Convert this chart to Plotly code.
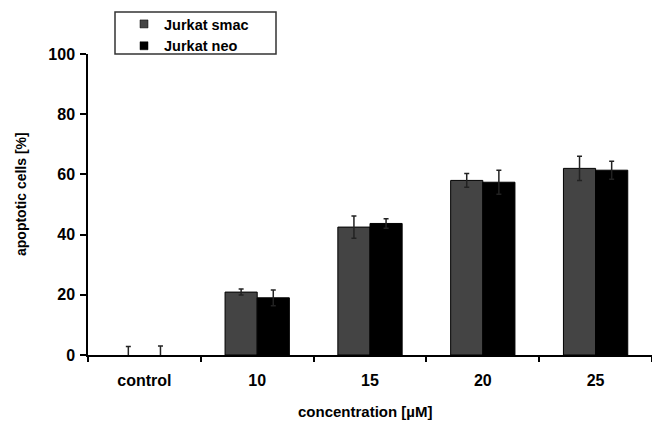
import plotly.graph_objects as go

categories = ["control", "10", "15", "20", "25"]
smac_values = [0.0, 20.9, 42.5, 58.0, 62.0]
smac_errors = [2.8, 1.0, 3.7, 2.3, 4.0]
neo_values = [0.0, 19.0, 43.7, 57.4, 61.4]
neo_errors = [3.0, 2.6, 1.6, 4.0, 3.0]
y_ticks = [0, 20, 40, 60, 80, 100]
series_names = ["Jurkat smac", "Jurkat neo"]
series_colors = ["#444444", "#000000"]

FONT = "Arial, 'Liberation Sans', sans-serif"
W, H = 652, 427
# plot area in pixels
PL, PR, PT, PB = 88, 652, 54, 355


def px_x(x):
    return x / W


def px_y(y):
    return 1 - y / H


fig = go.Figure()
for name, vals, errs, col in zip(series_names, [smac_values, neo_values],
                                 [smac_errors, neo_errors], series_colors):
    fig.add_trace(go.Bar(
        name=name, x=categories, y=vals, showlegend=False,
        marker=dict(color=col, line=dict(color="#000000",
                                         width=[1 if v > 0 else 0 for v in vals])),
        error_y=dict(type="data", array=errs, color="#222222", thickness=1.5, width=2.5),
    ))
    # legend entry with a small square symbol
    fig.add_trace(go.Scatter(
        name=name, x=[None], y=[None], mode="markers",
        marker=dict(symbol="square", size=8, color=col,
                    line=dict(color="#000000", width=0.5)),
    ))

fig.update_layout(
    width=W, height=H,
    margin=dict(l=0, r=0, t=0, b=0, pad=0),
    paper_bgcolor="white", plot_bgcolor="white",
    barmode="group", bargap=0.43, bargroupgap=0,
    font=dict(family=FONT, size=14, color="black", weight="bold"),
    showlegend=True,
    legend=dict(
        x=px_x(124), y=px_y(8), xanchor="left", yanchor="top",
        bgcolor="rgba(0,0,0,0)", borderwidth=0,
        font=dict(family=FONT, size=14.5, color="black", weight="bold"),
        tracegroupgap=0, itemwidth=30,
    ),
    xaxis=dict(
        domain=[px_x(PL), px_x(PR)], automargin=False,
        showline=True, linecolor="black", linewidth=1.5,
        ticks="outside", ticklen=5, tickwidth=1.5, tickcolor="black",
        tickson="boundaries", showgrid=False, ticklabelstandoff=10,
        tickfont=dict(family=FONT, size=16, color="black", weight="bold"),
    ),
    yaxis=dict(
        domain=[px_y(PB), px_y(PT)], automargin=False,
        range=[0, 100], tickvals=y_ticks,
        showline=True, linecolor="black", linewidth=1.5,
        ticks="outside", ticklen=6, tickwidth=1.5, tickcolor="black",
        showgrid=False, zeroline=False, ticklabelstandoff=2,
        tickfont=dict(family=FONT, size=16, color="black", weight="bold"),
    ),
    annotations=[
        dict(text="concentration [µM]", xref="paper", yref="paper",
             x=px_x(365), y=px_y(411), xanchor="center", yanchor="middle",
             showarrow=False,
             font=dict(family=FONT, size=15, color="black", weight="bold")),
        dict(text="apoptotic cells [%]", xref="paper", yref="paper",
             x=px_x(21), y=px_y(194), xanchor="center", yanchor="middle",
             showarrow=False, textangle=-90,
             font=dict(family=FONT, size=14, color="black", weight="bold")),
    ],
    shapes=[dict(
        type="rect", xref="paper", yref="paper",
        x0=px_x(115), x1=px_x(276), y0=px_y(54), y1=px_y(12),
        line=dict(color="#333333", width=1.5), fillcolor="rgba(0,0,0,0)",
    )],
)

fig.write_html(
    "out.html",
    config={"displayModeBar": False},
    post_script="document.body.style.margin='0';document.body.style.overflow='hidden';",
)
